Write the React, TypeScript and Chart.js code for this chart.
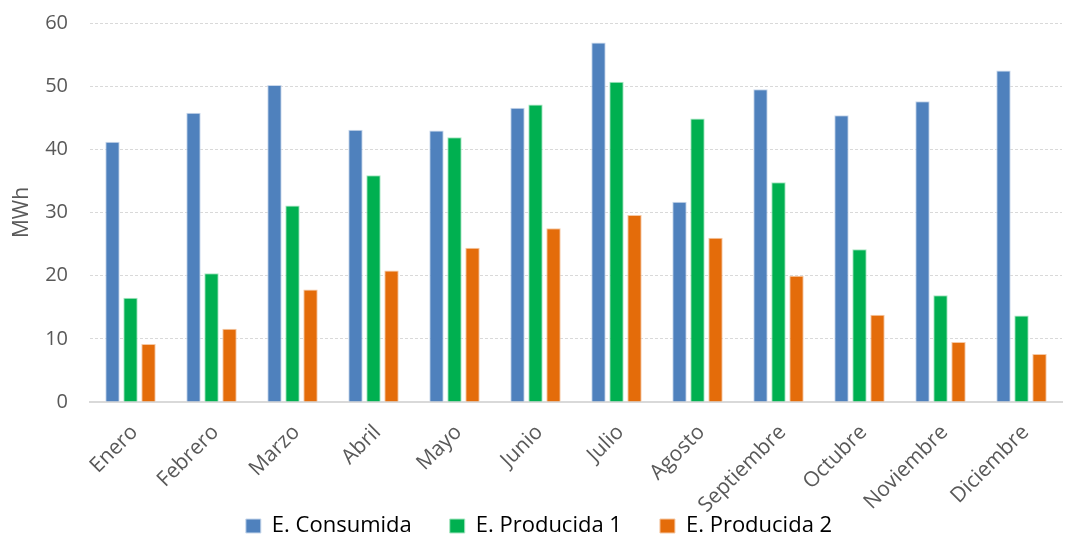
import React, { useEffect, useRef } from "react";
import { Chart, registerables } from "chart.js";

Chart.register(...registerables);

const categories = ["Enero", "Febrero", "Marzo", "Abril", "Mayo", "Junio", "Julio", "Agosto", "Septiembre", "Octubre", "Noviembre", "Diciembre"];
const consumida = [41.2, 45.8, 50.2, 43.1, 43.0, 46.6, 56.9, 31.7, 49.5, 45.4, 47.6, 52.5];
const producida1 = [16.5, 20.4, 31.1, 35.9, 41.9, 47.1, 50.7, 44.9, 34.8, 24.2, 16.9, 13.7];
const producida2 = [9.2, 11.6, 17.8, 20.8, 24.4, 27.5, 29.6, 26.0, 20.0, 13.8, 9.5, 7.6];
const seriesNames = ["E. Consumida", "E. Producida 1", "E. Producida 2"];
const yTicks = [0, 10, 20, 30, 40, 50, 60];

const FONT = "'Open Sans', 'Noto Sans', sans-serif";
const LEGEND_PAD = 38;
const LEGEND_ROW_TOP = 515;
const LEGEND_SHIFT_X = 8;

const legendPlace = {
  id: "legendPlace",
  beforeDraw(chart: any) {
    const lg = chart.legend;
    if (lg && !lg.__placed) {
      const orig = lg.draw;
      lg.draw = function (...args: any[]) {
        const t = this.top;
        const b = this.bottom;
        const h = this.height;
        const l = this.left;
        const r = this.right;
        this.top = LEGEND_ROW_TOP - LEGEND_PAD;
        this.bottom = chart.height;
        this.height = this.bottom - this.top;
        this.left = l + LEGEND_SHIFT_X;
        this.right = r + LEGEND_SHIFT_X;
        orig.apply(this, args);
        this.top = t;
        this.bottom = b;
        this.height = h;
        this.left = l;
        this.right = r;
      };
      lg.__placed = true;
    }
  },
};

export default function App() {
  const ref = useRef<HTMLCanvasElement | null>(null);
  useEffect(() => {
    document.body.style.margin = "0";
    const ctx = ref.current!;
    const mk = (label: string, data: number[], color: string, border: string) => ({
      label,
      data,
      backgroundColor: color,
      borderColor: border,
      borderWidth: 1,
      categoryPercentage: 0.667,
      barPercentage: 0.8,
    });
    const chart = new Chart(ctx, {
      type: "bar",
      data: {
        labels: categories,
        datasets: [
          mk(seriesNames[0], consumida, "#4F81BD", "#C9D8EC"),
          mk(seriesNames[1], producida1, "#00B050", "#A8E6C2"),
          mk(seriesNames[2], producida2, "#E46C0A", "#F5C8A4"),
        ],
      },
      plugins: [legendPlace],
      options: {
        animation: false,
        responsive: false,
        maintainAspectRatio: false,
        layout: { padding: { top: 23, right: 4, left: 0, bottom: 0 } },
        plugins: {
          legend: {
            position: "bottom",
            maxHeight: 26,
            labels: {
              boxWidth: 15,
              boxHeight: 14,
              padding: LEGEND_PAD,
              color: "#000000",
              font: { family: FONT, size: 22 },
            },
          },
          tooltip: { enabled: false },
        },
        scales: {
          x: {
            afterFit: (scale: any) => {
              scale.height = 110;
              scale.paddingTop = 0;
            },
            grid: { display: false, drawTicks: false },
            border: { color: "#D9D9D9", width: 2 },
            ticks: {
              minRotation: 45,
              maxRotation: 45,
              color: "#595959",
              padding: 18,
              labelOffset: 4,
              font: { family: FONT, size: 21 },
            },
          },
          y: {
            min: 0,
            max: 60,
            afterBuildTicks: (axis: any) => {
              axis.ticks = yTicks.map((v) => ({ value: v }));
            },
            afterFit: (scale: any) => {
              scale.width = 90;
              scale.paddingTop = 0;
              scale.paddingBottom = 0;
            },
            grid: { color: "#D9D9D9", drawTicks: false, lineWidth: 1 },
            border: { display: false, dash: [3, 2] },
            ticks: {
              color: "#595959",
              padding: 22,
              font: { family: FONT, size: 20 },
            },
            title: {
              display: true,
              text: "MWh",
              color: "#595959",
              font: { family: FONT, size: 21 },
              padding: { top: 9, bottom: 0 },
            },
          },
        },
      },
    });
    return () => chart.destroy();
  }, []);
  return (
    <div style={{ width: 1066, height: 538 }}>
      <canvas ref={ref} width={1066} height={538} style={{ width: 1066, height: 538 }} />
    </div>
  );
}
